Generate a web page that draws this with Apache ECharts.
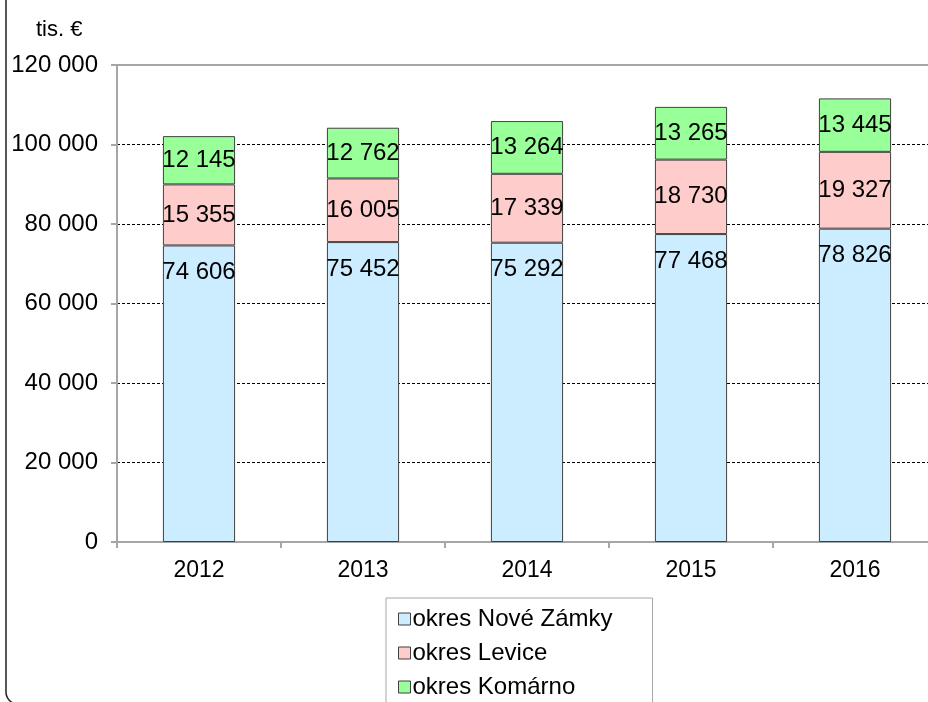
<!DOCTYPE html>
<html><head><meta charset="utf-8">
<script src="https://cdn.jsdelivr.net/npm/echarts@6/dist/echarts.min.js"></script>
<style>html,body{margin:0;padding:0;background:#fff}#c{width:928px;height:702px}</style>
</head><body><div id="c"></div>
<script>
const categories = ['2012','2013','2014','2015','2016'];
const seriesNames = ['okres Nové Zámky','okres Levice','okres Komárno'];
const noveZamky = [74606, 75452, 75292, 77468, 78826];
const levice = [15355, 16005, 17339, 18730, 19327];
const komarno = [12145, 12762, 13264, 13265, 13445];
const colors = ['#CCECFF','#FFCCCC','#99FF99'];

function fmt(v){ return String(v).replace(/\B(?=(\d{3})+(?!\d))/g,' '); }
const FONT = '"Liberation Sans", Arial, sans-serif';
const chart = echarts.init(document.getElementById('c'));
function mk(name, data, color, pos, dist){
  return {
    name, type:'bar', stack:'t', data, barWidth:'44%',
    itemStyle:{color, borderColor:'#404040', borderWidth:1},
    label:{show:true, position:pos, distance:dist, formatter:p=>fmt(p.value),
      color:'#000', fontSize:24, fontFamily:FONT},
    emphasis:{disabled:true}, animation:false
  };
}
chart.setOption({
  animation:false,
  title:{text:'tis. €', left:31, top:14, textStyle:{fontSize:22, fontWeight:'normal', color:'#000', fontFamily:FONT}},
  grid:{left:117, width:820, top:65, height:477, outerBoundsMode:'none', containLabel:false,
    show:true, borderColor:'#a6a6a6', borderWidth:2, backgroundColor:'transparent'},
  xAxis:{type:'category', data:categories,
    axisLine:{lineStyle:{color:'#a6a6a6', width:2}},
    axisTick:{show:true, length:6, lineStyle:{color:'#a6a6a6', width:2}},
    axisLabel:{color:'#000', fontSize:23, fontFamily:FONT, margin:17}},
  yAxis:{type:'value', min:0, max:120000, interval:20000,
    axisLine:{show:true, lineStyle:{color:'#a6a6a6', width:2}},
    axisTick:{show:true, length:6, lineStyle:{color:'#a6a6a6', width:2}},
    axisLabel:{color:'#000', fontSize:24, fontFamily:FONT, margin:19, formatter:v=>fmt(v)},
    splitLine:{show:true, showMinLine:false, showMaxLine:false, lineStyle:{color:'#000', type:[3,2], width:1}}},
  legend:{data:seriesNames, orient:'vertical', left:386, top:598, height:200,
    padding:[9,40,40,12], itemGap:10, itemWidth:12, itemHeight:12, icon:'rect',
    borderColor:'#a6a6a6', borderWidth:1, backgroundColor:'#fff',
    itemStyle:{borderColor:'#404040', borderWidth:1},
    textStyle:{color:'#000', fontSize:24, fontFamily:FONT, padding:[0,0,0,-3]}},
  graphic:[{type:'rect', shape:{x:6, y:-30, width:960, height:734, r:12},
    style:{fill:null, stroke:'#222', lineWidth:1.5}, silent:true, z:100}],
  series:[
    mk(seriesNames[0], noveZamky, colors[0], 'insideTop', 15),
    mk(seriesNames[1], levice, colors[1], 'inside', 5),
    mk(seriesNames[2], komarno, colors[2], 'inside', 5)
  ]
});
</script></body></html>
